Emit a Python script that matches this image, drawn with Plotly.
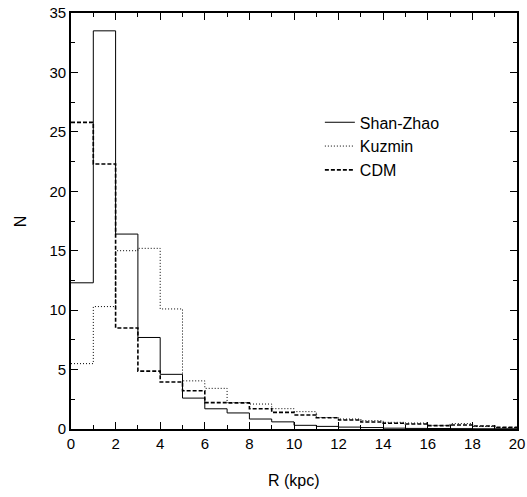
import plotly.graph_objects as go

# bin edges (kpc)
edges = list(range(0, 21))

shan_zhao = [12.3, 33.5, 16.4, 7.7, 4.6, 2.6, 1.7, 1.35, 0.84, 0.6, 0.31, 0.22, 0.16, 0.12, 0.07, 0.05, 0.04, 0.03, 0.02, 0.02]
kuzmin    = [5.5, 10.3, 15.0, 15.2, 10.1, 4.05, 3.42, 2.22, 2.1, 1.71, 1.46, 0.97, 0.84, 0.7, 0.56, 0.5, 0.3, 0.45, 0.22, 0.12]
cdm       = [25.8, 22.3, 8.5, 4.87, 3.96, 3.22, 2.22, 2.2, 1.71, 1.4, 1.18, 0.95, 0.76, 0.59, 0.48, 0.42, 0.28, 0.34, 0.25, 0.14]

series = [
    ("Shan-Zhao", shan_zhao, "solid", 1.0),
    ("Kuzmin", kuzmin, "1px,2px", 1.0),
    ("CDM", cdm, "4px,2px", 1.6),
]

fig = go.Figure()
for name, vals, dash, w in series:
    fig.add_trace(go.Scatter(
        x=edges, y=vals + [vals[-1]], mode="lines", line_shape="hv",
        name=name, line=dict(color="black", width=w, dash=dash),
    ))

font = "Liberation Sans, Arial, sans-serif"
fig.update_layout(
    width=527, height=497,
    margin=dict(l=71, r=10, t=13, b=68, autoexpand=False),
    paper_bgcolor="white", plot_bgcolor="white",
    font=dict(family=font, size=15, color="black"),
    legend=dict(x=0.558, y=0.778, xanchor="left", yanchor="top",
                bgcolor="rgba(0,0,0,0)", font=dict(size=16, family=font),
                tracegroupgap=0, itemwidth=30),
    showlegend=True,
    annotations=[
        dict(text="R (kpc)", xref="paper", yref="paper", x=0.5, y=-0.1226,
             xanchor="center", yanchor="middle", showarrow=False, font=dict(size=16)),
        dict(text="N", xref="paper", yref="paper", x=-0.114, y=0.5, textangle=-90,
             xanchor="center", yanchor="middle", showarrow=False, font=dict(size=16)),
    ],
)
fig.update_xaxes(
    range=[0, 20], tickmode="array", tickvals=list(range(0, 21, 2)),
    ticktext=[str(v) for v in range(0, 21, 2)],
    ticks="inside", ticklen=7, tickwidth=1.2, tickcolor="black",
    minor=dict(tickvals=list(range(1, 20, 2)), ticks="inside", ticklen=4, tickcolor="black", tickwidth=1.2),
    showline=True, linecolor="black", linewidth=1.6, mirror="ticks",
    showgrid=False, zeroline=False, automargin=False, ticklabeloverflow="allow",
)
fig.update_yaxes(
    range=[0, 35], tickmode="array", tickvals=list(range(0, 36, 5)),
    ticks="inside", ticklen=7, tickwidth=1.2, tickcolor="black",
    minor=dict(tickvals=[2.5, 7.5, 12.5, 17.5, 22.5, 27.5, 32.5], ticks="inside", ticklen=4, tickcolor="black", tickwidth=1.2),
    showline=True, linecolor="black", linewidth=1.6, mirror="ticks",
    showgrid=False, zeroline=False, automargin=False, ticklabeloverflow="allow",
)

fig.write_html(
    "out.html",
    config={"displayModeBar": False},
    post_script="document.body.style.margin='0px';document.documentElement.style.overflow='hidden';",
)
